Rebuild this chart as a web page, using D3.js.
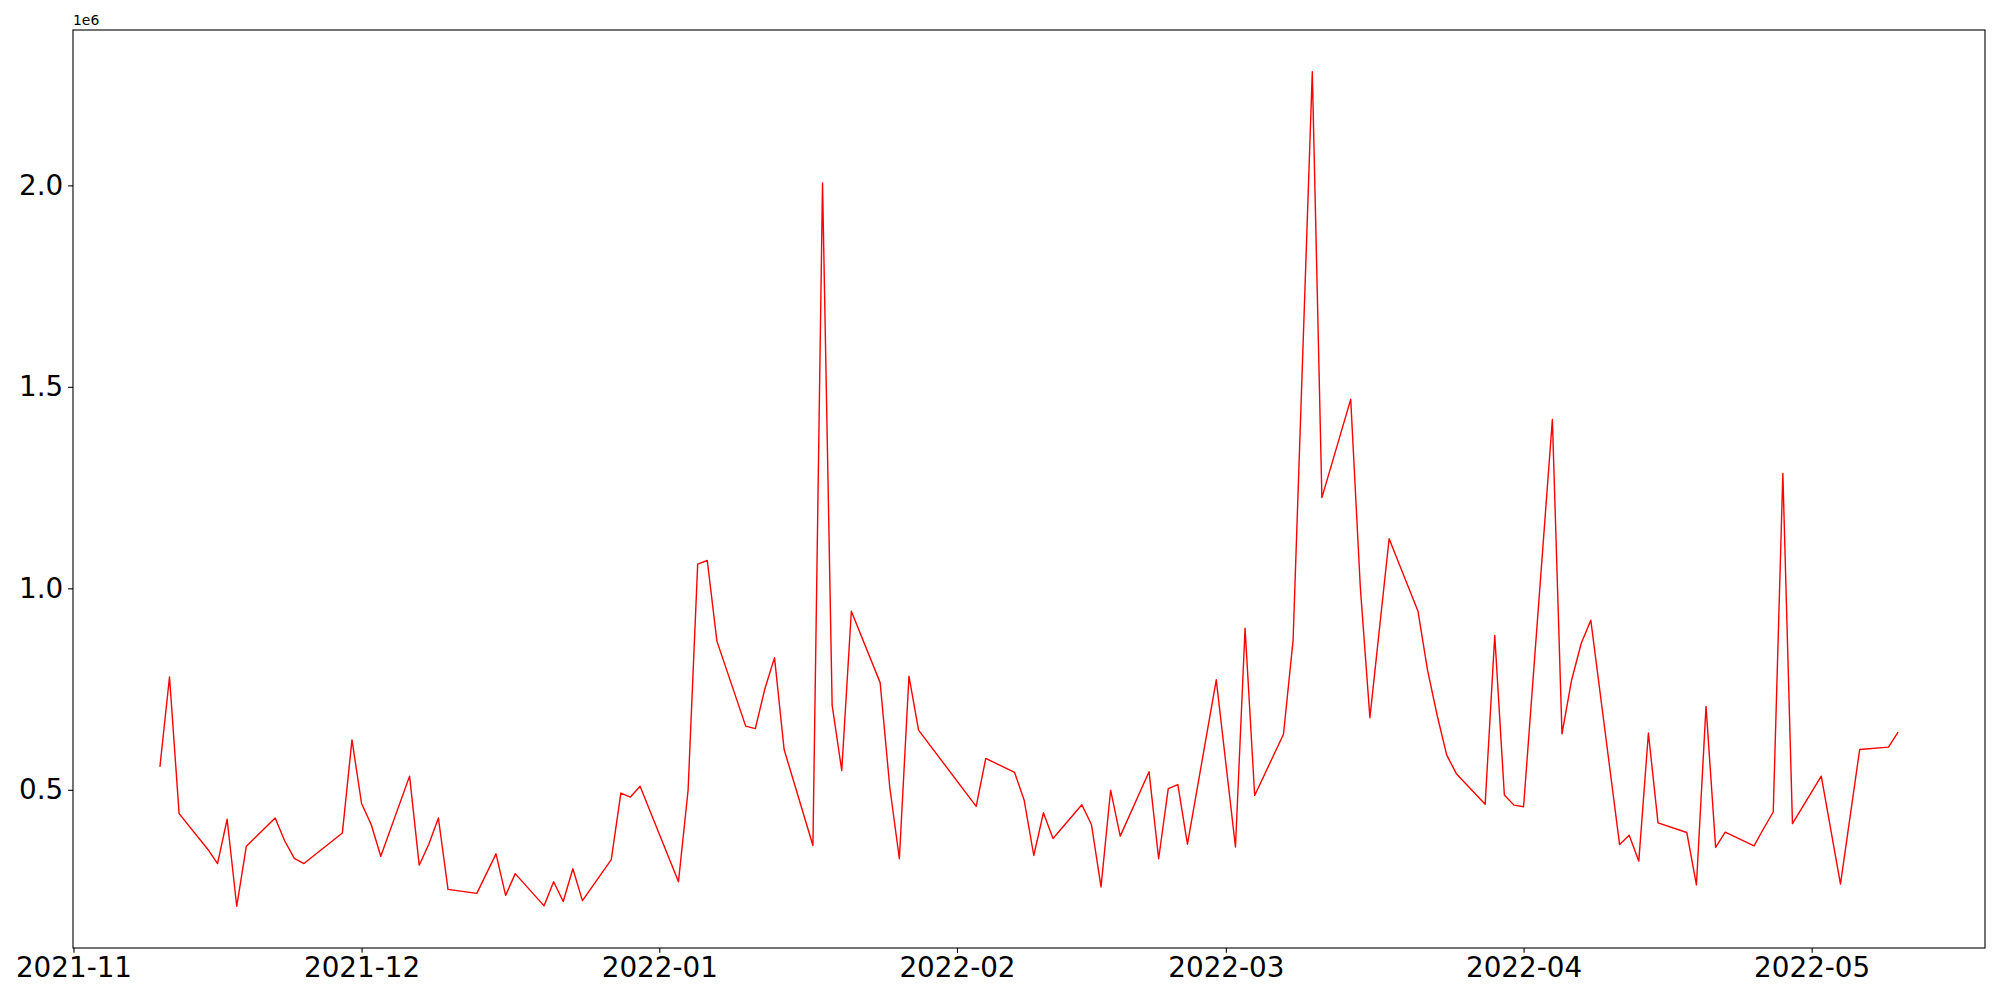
<!DOCTYPE html>
<html lang="en">
  <head>
    <meta charset="UTF-8" />
    <title>Daily series</title>
    <script src="https://d3js.org/d3.v7.min.js"></script>
    <style>
      body {
        margin: 0;
        background-color: #FFFFFF;
        font-family: "DejaVu Sans", sans-serif;
      }
    </style>
  </head>
  <body>
    <div id="my_dataviz"></div>
    <script>
      // data (values in units, axis shows them x1e6)
      var dates = [
        "2021-11-10", "2021-11-11", "2021-11-12", "2021-11-15", "2021-11-16", "2021-11-17", "2021-11-18", "2021-11-19",
        "2021-11-22", "2021-11-23", "2021-11-24", "2021-11-25", "2021-11-29", "2021-11-30", "2021-12-01", "2021-12-02",
        "2021-12-03", "2021-12-06", "2021-12-07", "2021-12-08", "2021-12-09", "2021-12-10", "2021-12-13", "2021-12-15",
        "2021-12-16", "2021-12-17", "2021-12-20", "2021-12-21", "2021-12-22", "2021-12-23", "2021-12-24", "2021-12-27",
        "2021-12-28", "2021-12-29", "2021-12-30", "2022-01-03", "2022-01-04", "2022-01-05", "2022-01-06", "2022-01-07",
        "2022-01-10", "2022-01-11", "2022-01-12", "2022-01-13", "2022-01-14", "2022-01-17", "2022-01-18", "2022-01-19",
        "2022-01-20", "2022-01-21", "2022-01-24", "2022-01-25", "2022-01-26", "2022-01-27", "2022-01-28", "2022-02-03",
        "2022-02-04", "2022-02-07", "2022-02-08", "2022-02-09", "2022-02-10", "2022-02-11", "2022-02-14", "2022-02-15",
        "2022-02-16", "2022-02-17", "2022-02-18", "2022-02-21", "2022-02-22", "2022-02-23", "2022-02-24", "2022-02-25",
        "2022-02-28", "2022-03-02", "2022-03-03", "2022-03-04", "2022-03-07", "2022-03-08", "2022-03-10", "2022-03-11",
        "2022-03-14", "2022-03-15", "2022-03-16", "2022-03-18", "2022-03-21", "2022-03-22", "2022-03-23", "2022-03-24",
        "2022-03-25", "2022-03-28", "2022-03-29", "2022-03-30", "2022-03-31", "2022-04-01", "2022-04-04", "2022-04-05",
        "2022-04-06", "2022-04-07", "2022-04-08", "2022-04-11", "2022-04-12", "2022-04-13", "2022-04-14", "2022-04-15",
        "2022-04-18", "2022-04-19", "2022-04-20", "2022-04-21", "2022-04-22", "2022-04-25", "2022-04-26", "2022-04-27",
        "2022-04-28", "2022-04-29", "2022-05-02", "2022-05-04", "2022-05-06", "2022-05-09", "2022-05-10"
      ];
      var values = [
        557000, 780000, 441000, 352000, 317000, 427000, 211000, 360000,
        430000, 373000, 330000, 317000, 393000, 624000, 466000, 414000,
        335000, 534000, 313000, 365000, 430000, 253000, 243000, 341000,
        238000, 292000, 212000, 272000, 223000, 304000, 225000, 327000,
        492000, 482000, 509000, 272000, 499000, 1060000, 1069000, 869000,
        658000, 652000, 751000, 828000, 600000, 362000, 2006000, 710000,
        548000, 943000, 766000, 507000, 329000, 782000, 648000, 459000,
        578000, 543000, 474000, 337000, 443000, 379000, 463000, 414000,
        259000, 499000, 385000, 545000, 329000, 503000, 513000, 365000,
        773000, 358000, 901000, 486000, 638000, 871000, 2282000, 1225000,
        1469000, 1003000, 679000, 1123000, 944000, 797000, 685000, 586000,
        540000, 464000, 883000, 487000, 462000, 458000, 1419000, 639000,
        772000, 863000, 921000, 364000, 387000, 323000, 641000, 418000,
        394000, 264000, 707000, 357000, 395000, 361000, 404000, 445000,
        1285000, 416000, 534000, 266000, 600000, 606000, 643000
      ];
      var xTickLabels = ["2021-11", "2021-12", "2022-01", "2022-02", "2022-03", "2022-04", "2022-05"];
      var yTicks = [500000, 1000000, 1500000, 2000000];

      // set the dimensions and margins of the graph
      var margin = { top: 30, right: 15, bottom: 52, left: 73 },
        width = 2000 - margin.left - margin.right,
        height = 1000 - margin.top - margin.bottom;

      var parseDay = d3.timeParse("%Y-%m-%d");
      var parseMonth = d3.timeParse("%Y-%m");

      var data = dates.map(function (d, i) {
        return { date: parseDay(d), value: values[i] };
      });

      var svg = d3
        .select("#my_dataviz")
        .append("svg")
        .attr("width", 2000)
        .attr("height", 1000)
        .style("display", "block")
        .style("background", "#fff")
        .append("g")
        .attr("transform", "translate(" + margin.left + "," + margin.top + ")");

      // matplotlib style 5% padding around the data
      var xExt = d3.extent(data, function (d) { return d.date; });
      var xPad = (xExt[1] - xExt[0]) * 0.05;
      var x = d3
        .scaleTime()
        .domain([new Date(+xExt[0] - xPad), new Date(+xExt[1] + xPad)])
        .range([0, width]);

      var yExt = d3.extent(values);
      var yPad = (yExt[1] - yExt[0]) * 0.05;
      var y = d3
        .scaleLinear()
        .domain([yExt[0] - yPad, yExt[1] + yPad])
        .range([height, 0]);

      var tickLen = 4.86;

      // X axis
      var xAxis = svg
        .append("g")
        .attr("transform", "translate(0," + height + ")")
        .call(
          d3.axisBottom(x)
            .tickValues(xTickLabels.map(parseMonth))
            .tickFormat(d3.timeFormat("%Y-%m"))
            .tickSize(tickLen)
            .tickPadding(4.9)
        );
      xAxis.select(".domain").remove();
      xAxis.selectAll("line").attr("stroke", "#000").attr("stroke-width", 1.1);
      xAxis.selectAll("text")
        .attr("font-family", "DejaVu Sans")
        .style("font-size", "27.8px")
        .attr("fill", "#000");

      // Y axis
      var yAxis = svg
        .append("g")
        .call(
          d3.axisLeft(y)
            .tickValues(yTicks)
            .tickFormat(function (d) { return d3.format(".1f")(d / 1e6); })
            .tickSize(tickLen)
            .tickPadding(4.9)
        );
      yAxis.select(".domain").remove();
      yAxis.selectAll("line").attr("stroke", "#000").attr("stroke-width", 1.1);
      yAxis.selectAll("text")
        .attr("font-family", "DejaVu Sans")
        .style("font-size", "27.8px")
        .attr("fill", "#000");

      // the line
      svg
        .append("path")
        .datum(data)
        .attr("fill", "none")
        .attr("stroke", "#ff0000")
        .attr("stroke-width", 1.4)
        .attr("stroke-linejoin", "round")
        .attr("d", d3.line()
          .x(function (d) { return x(d.date); })
          .y(function (d) { return y(d.value); })
        );

      // frame
      svg
        .append("rect")
        .attr("x", 0)
        .attr("y", 0)
        .attr("width", width)
        .attr("height", height)
        .attr("fill", "none")
        .attr("stroke", "#000")
        .attr("stroke-width", 1.1);

      // offset text
      svg.append("text")
        .attr("x", 0)
        .attr("y", -5)
        .attr("font-family", "DejaVu Sans")
        .style("font-size", "13.9px")
        .text("1e6");
    </script>
  </body>
</html>
